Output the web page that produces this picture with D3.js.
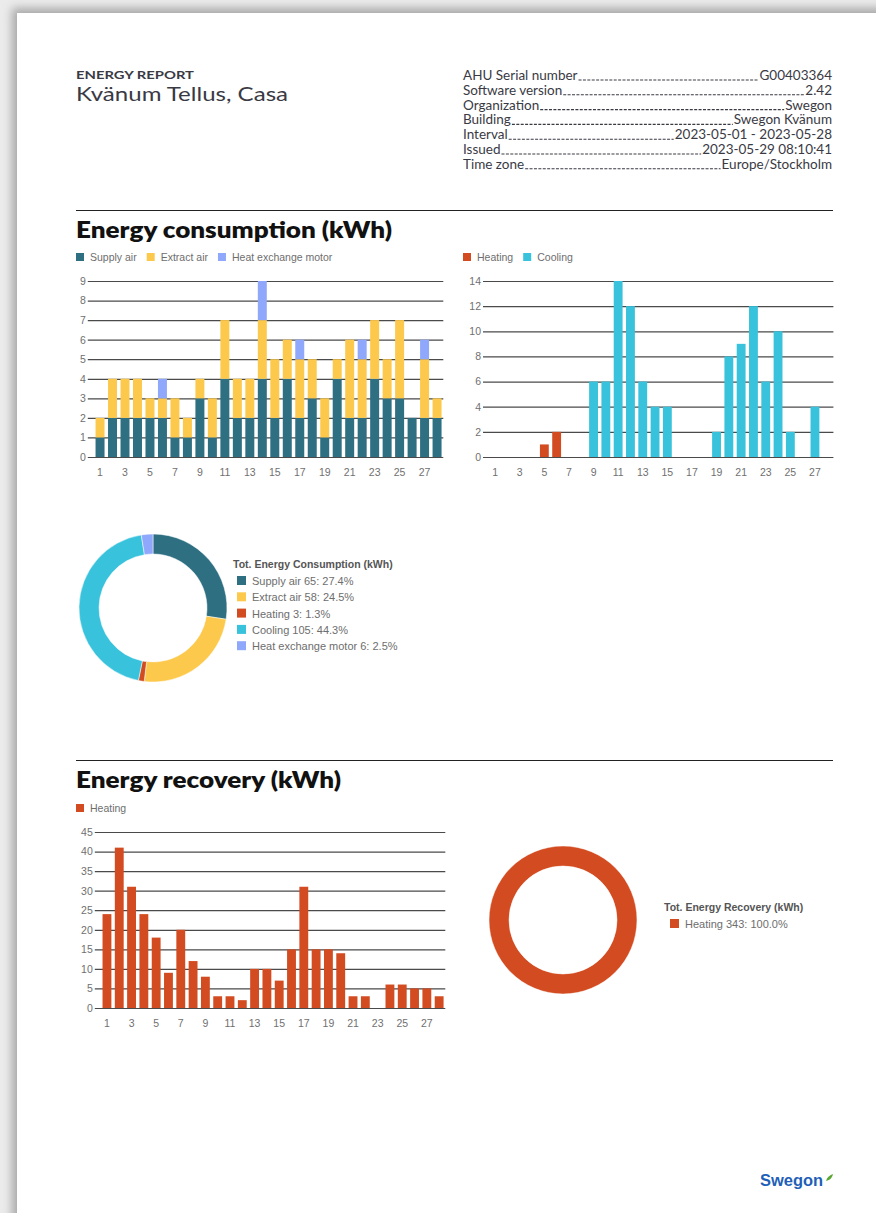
<!DOCTYPE html>
<html>
<head>
<meta charset="utf-8">
<script src="https://cdn.jsdelivr.net/npm/d3@7"></script>
<style>
  html, body { margin: 0; padding: 0; background: #ececec; }
  svg { display: block; }
</style>
</head>
<body>
<svg id="chart" width="876" height="1213"></svg>
<script>
// ---------------- DATA ----------------
const days = d3.range(1, 29);
const supplyAir = [1,2,2,2,2,2,1,1,3,1,4,2,2,4,2,4,2,3,1,4,2,2,4,3,3,2,2,2];
const extractAir = [1,2,2,2,1,1,2,1,1,2,3,2,2,3,3,2,3,2,2,1,4,3,3,2,4,0,3,1];
const heatExchangeMotor = [0,0,0,0,0,1,0,0,0,0,0,0,0,2,0,0,1,0,0,0,0,1,0,0,0,0,1,0];
const heating = [0,0,0,0,1,2,0,0,0,0,0,0,0,0,0,0,0,0,0,0,0,0,0,0,0,0,0,0];
const cooling = [0,0,0,0,0,0,0,0,6,6,14,12,6,4,4,0,0,0,2,8,9,12,6,10,2,0,4,0];
const recoveryHeating = [24,41,31,24,18,9,20,12,8,3,3,2,10,10,7,15,31,15,15,14,3,3,0,6,6,5,5,3];
const xTickDays = [1,3,5,7,9,11,13,15,17,19,21,23,25,27];
const consumptionTicks = [0,1,2,3,4,5,6,7,8,9];
const hcTicks = [0,2,4,6,8,10,12,14];
const recoveryTicks = [0,5,10,15,20,25,30,35,40,45];
const consumptionLabels = ["Supply air", "Extract air", "Heating", "Cooling", "Heat exchange motor"];
const consumptionTotals = [65, 58, 3, 105, 6];
const consumptionPct = ["27.4%", "24.5%", "1.3%", "44.3%", "2.5%"];
const recoveryLabels = ["Heating"];
const recoveryTotals = [343];
const recoveryPct = ["100.0%"];
const headerKeys = ["AHU Serial number", "Software version", "Organization", "Building", "Interval", "Issued", "Time zone"];
const headerValues = ["G00403364", "2.42", "Swegon", "Swegon Kvänum", "2023-05-01 - 2023-05-28", "2023-05-29 08:10:41", "Europe/Stockholm"];

const C = {
  supply: "#2e6f82", extract: "#fdc94c", hem: "#8fa8fb",
  heating: "#d34b20", cooling: "#38c2dc",
  grid: "#4a4a4a", tick: "#707070", legend: "#6e6e6e"
};

const svg = d3.select("#chart");
const TITLE_FONT = "Lato, 'Open Sans', sans-serif";
const CHART_FONT = "'Liberation Sans', Arial, sans-serif";

// ---------------- PAGE / SHADOW ----------------
const defs = svg.append("defs");
const f = defs.append("filter").attr("id", "sh").attr("x", "-5%").attr("y", "-5%").attr("width", "110%").attr("height", "110%");
f.append("feGaussianBlur").attr("in", "SourceGraphic").attr("stdDeviation", 5);
svg.append("rect").attr("x", 0).attr("y", 0).attr("width", 876).attr("height", 1213).attr("fill", "#ebebeb");
svg.append("rect").attr("x", 12).attr("y", 8).attr("width", 900).attr("height", 1250)
  .attr("fill", "#a9a9a9").attr("filter", "url(#sh)");
svg.append("rect").attr("x", 17).attr("y", 13).attr("width", 900).attr("height", 1250).attr("fill", "#ffffff");

// ---------------- HEADER ----------------
svg.append("text").attr("x", 76).attr("y", 79).text("ENERGY REPORT")
  .attr("font-family", TITLE_FONT).attr("font-weight", 700).attr("font-size", 12)
  .attr("fill", "#3a3a44").attr("textLength", 118).attr("lengthAdjust", "spacingAndGlyphs");
svg.append("text").attr("x", 76).attr("y", 101).text("Kvänum Tellus, Casa")
  .attr("font-family", TITLE_FONT).attr("font-size", 20)
  .attr("fill", "#3a3a44").attr("textLength", 212).attr("lengthAdjust", "spacingAndGlyphs");

const hdr = svg.append("g").attr("font-family", TITLE_FONT).attr("font-size", 13.5).attr("fill", "#3a3a44");
headerKeys.forEach((k, i) => {
  const y = 80 + i * 14.8;
  const kt = hdr.append("text").attr("x", 463).attr("y", y).text(k);
  const vt = hdr.append("text").attr("x", 832).attr("y", y).attr("text-anchor", "end").text(headerValues[i]);
  const kw = kt.node().getComputedTextLength();
  const vw = vt.node().getComputedTextLength();
  hdr.append("line").attr("x1", 463 + kw + 1).attr("x2", 832 - vw - 1)
    .attr("y1", y).attr("y2", y).attr("stroke", "#3a3a44").attr("stroke-width", 1.1)
    .attr("stroke-dasharray", "3,1.4");
});

// ---------------- SECTION TITLES ----------------
function section(yRule, yTitle, title, w) {
  svg.append("line").attr("x1", 76).attr("x2", 833).attr("y1", yRule).attr("y2", yRule)
    .attr("stroke", "#222").attr("stroke-width", 1.2);
  svg.append("text").attr("x", 76).attr("y", yTitle).text(title)
    .attr("font-family", TITLE_FONT).attr("font-weight", 800).attr("font-size", 22.5)
    .attr("fill", "#111").attr("textLength", w).attr("lengthAdjust", "spacingAndGlyphs");
}
section(210.5, 238, "Energy consumption (kWh)", 316);
section(760.5, 788, "Energy recovery (kWh)", 265);

// ---------------- LEGEND HELPER ----------------
function legend(x, y, items) {
  const g = svg.append("g").attr("font-family", CHART_FONT).attr("font-size", 10.5).attr("fill", C.legend);
  let cx = x;
  items.forEach(it => {
    g.append("rect").attr("x", cx).attr("y", y - 8).attr("width", 8).attr("height", 8).attr("fill", it.color);
    const t = g.append("text").attr("x", cx + 14).attr("y", y).text(it.label);
    cx += 14 + t.node().getComputedTextLength() + 10;
  });
}

// ---------------- BAR CHART HELPER ----------------
function barFrame(x0, x1, y0, y1, ticks, maxV, labelX) {
  const x = d3.scaleBand().domain(days).range([x0, x1]).paddingInner(0.28).paddingOuter(0.14);
  const y = d3.scaleLinear().domain([0, maxV]).range([y0, y1]);
  const gy = svg.append("g").attr("transform", `translate(${x0 - 6},0)`)
    .call(d3.axisLeft(y).tickValues(ticks).tickSize(-(x1 - x0 + 6)).tickPadding(labelX));
  gy.select(".domain").remove();
  gy.selectAll(".tick line").attr("stroke", C.grid).attr("stroke-width", 1.2);
  gy.selectAll(".tick text").attr("fill", C.tick).attr("font-family", CHART_FONT).attr("font-size", 10.5);
  const gx = svg.append("g").attr("transform", `translate(0,${y0 + 6})`)
    .call(d3.axisBottom(x).tickValues(xTickDays).tickSize(0).tickPadding(6));
  gx.select(".domain").remove();
  gx.selectAll(".tick text").attr("fill", C.tick).attr("font-family", CHART_FONT).attr("font-size", 10.5);
  return { x, y };
}

// ---- Chart 1: stacked consumption ----
legend(76, 261, [
  { label: "Supply air", color: C.supply },
  { label: "Extract air", color: C.extract },
  { label: "Heat exchange motor", color: C.hem }
]);
{
  const { x, y } = barFrame(93.8, 443.3, 457, 281, consumptionTicks, 9, 2);
  const rows = days.map((d, i) => ({ day: d, supply: supplyAir[i], extract: extractAir[i], hem: heatExchangeMotor[i] }));
  const stack = d3.stack().keys(["supply", "extract", "hem"])(rows);
  const colors = { supply: C.supply, extract: C.extract, hem: C.hem };
  svg.append("g").selectAll("g").data(stack).join("g").attr("fill", s => colors[s.key])
    .selectAll("rect").data(s => s).join("rect")
    .attr("x", d => x(d.data.day)).attr("width", x.bandwidth())
    .attr("y", d => y(d[1])).attr("height", d => y(d[0]) - y(d[1]));
}

// ---- Chart 2: heating/cooling ----
legend(463, 261, [
  { label: "Heating", color: C.heating },
  { label: "Cooling", color: C.cooling }
]);
{
  const { x, y } = barFrame(489, 833.4, 457, 281, hcTicks, 14, 2);
  svg.append("g").attr("fill", C.heating).selectAll("rect").data(days.filter((d, i) => heating[i] > 0)).join("rect")
    .attr("x", d => x(d)).attr("width", x.bandwidth())
    .attr("y", d => y(heating[d - 1])).attr("height", d => y(0) - y(heating[d - 1]));
  svg.append("g").attr("fill", C.cooling).selectAll("rect").data(days.filter((d, i) => cooling[i] > 0)).join("rect")
    .attr("x", d => x(d)).attr("width", x.bandwidth())
    .attr("y", d => y(cooling[d - 1])).attr("height", d => y(0) - y(cooling[d - 1]));
}

// ---- Chart 3: recovery ----
legend(76, 812, [{ label: "Heating", color: C.heating }]);
{
  const { x, y } = barFrame(100.8, 445.3, 1008, 832, recoveryTicks, 45, 2);
  svg.append("g").attr("fill", C.heating).selectAll("rect").data(days.filter((d, i) => recoveryHeating[i] > 0)).join("rect")
    .attr("x", d => x(d)).attr("width", x.bandwidth())
    .attr("y", d => y(recoveryHeating[d - 1])).attr("height", d => y(0) - y(recoveryHeating[d - 1]));
}

// ---------------- DONUTS ----------------
function donut(cx, cy, values, colors, title, labels, pcts, lx, ly, sqx) {
  const pie = d3.pie().sort(null).value(d => d)(values);
  const arc = d3.arc().innerRadius(54).outerRadius(74);
  svg.append("g").attr("transform", `translate(${cx},${cy})`)
    .selectAll("path").data(pie).join("path")
    .attr("d", arc).attr("fill", (d, i) => colors[i]).attr("stroke", "#fff").attr("stroke-width", 0.5);
  const g = svg.append("g").attr("font-family", CHART_FONT);
  g.append("text").attr("x", lx).attr("y", ly).text(title)
    .attr("font-size", 10.5).attr("font-weight", 700).attr("fill", "#555");
  labels.forEach((l, i) => {
    const y = ly + 17 + i * 16.3;
    g.append("rect").attr("x", sqx).attr("y", y - 9).attr("width", 9).attr("height", 9).attr("fill", colors[i]);
    g.append("text").attr("x", sqx + 15).attr("y", y).text(`${l} ${values[i]}: ${pcts[i]}`)
      .attr("font-size", 11).attr("fill", C.legend);
  });
}
donut(153, 608, consumptionTotals, [C.supply, C.extract, C.heating, C.cooling, C.hem],
  "Tot. Energy Consumption (kWh)", consumptionLabels, consumptionPct, 233, 568, 237);
donut(563, 920, recoveryTotals, [C.heating],
  "Tot. Energy Recovery (kWh)", recoveryLabels, recoveryPct, 664, 911, 670);

// ---------------- LOGO ----------------
svg.append("text").attr("x", 760).attr("y", 1186).text("Swegon")
  .attr("font-family", "'Liberation Sans', Arial, sans-serif").attr("font-weight", 700)
  .attr("font-size", 16).attr("fill", "#1f5fb8")
  .attr("textLength", 63).attr("lengthAdjust", "spacingAndGlyphs");
svg.append("path").attr("d", "M826,1181 C827,1177 830,1175 833,1174 C832,1178 830,1180 826,1181 Z").attr("fill", "#58a832");
</script>
</body>
</html>
